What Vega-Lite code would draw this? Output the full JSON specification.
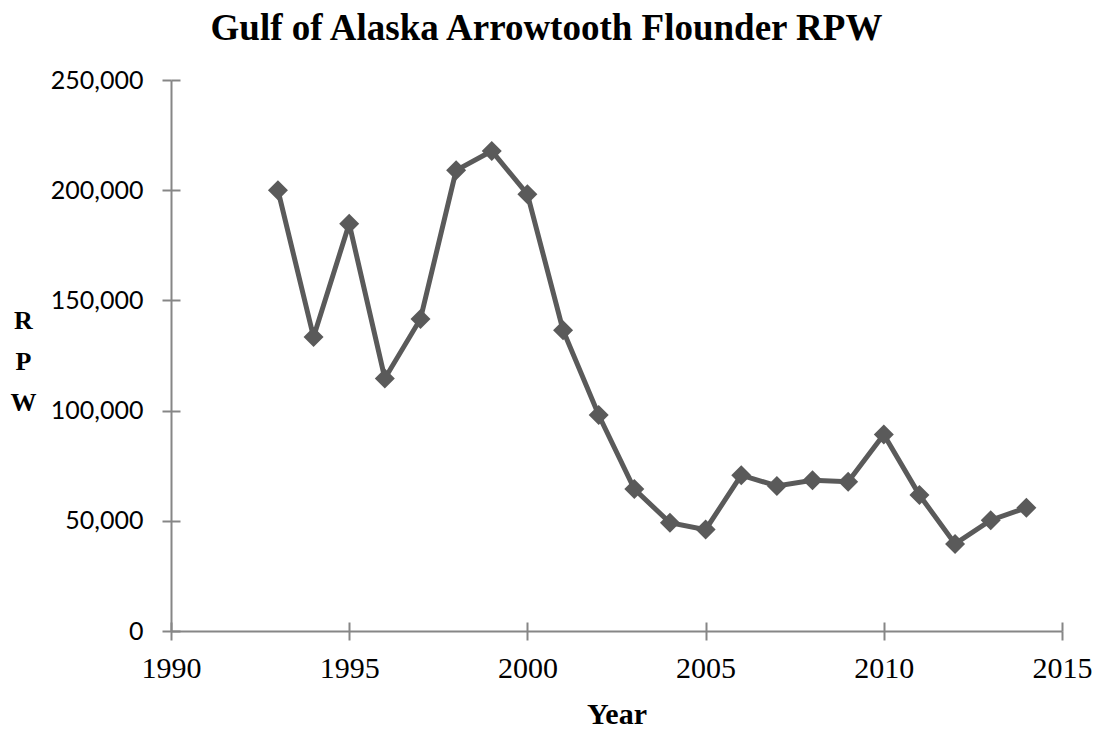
{
  "$schema": "https://vega.github.io/schema/vega-lite/v6.json",
  "width": 891,
  "height": 551,
  "autosize": "none",
  "padding": {"left": 171, "top": 80, "right": 39, "bottom": 98},
  "background": "white",
  "title": {
    "text": "Gulf of Alaska Arrowtooth Flounder RPW",
    "font": "Liberation Serif",
    "fontSize": 37,
    "fontWeight": "bold",
    "color": "#000000",
    "anchor": "middle",
    "frame": "group",
    "dx": -70,
    "dy": 37,
    "baseline": "alphabetic",
    "offset": 28
  },
  "data": {
    "values": [
      {"Year": 1993, "RPW": 200000},
      {"Year": 1994, "RPW": 133400},
      {"Year": 1995, "RPW": 184800},
      {"Year": 1996, "RPW": 114600},
      {"Year": 1997, "RPW": 141600},
      {"Year": 1998, "RPW": 209000},
      {"Year": 1999, "RPW": 217800},
      {"Year": 2000, "RPW": 198200},
      {"Year": 2001, "RPW": 136500},
      {"Year": 2002, "RPW": 98000},
      {"Year": 2003, "RPW": 64400},
      {"Year": 2004, "RPW": 49100},
      {"Year": 2005, "RPW": 46000},
      {"Year": 2006, "RPW": 70700},
      {"Year": 2007, "RPW": 65800},
      {"Year": 2008, "RPW": 68400},
      {"Year": 2009, "RPW": 67700},
      {"Year": 2010, "RPW": 89200},
      {"Year": 2011, "RPW": 61700},
      {"Year": 2012, "RPW": 39500},
      {"Year": 2013, "RPW": 50300},
      {"Year": 2014, "RPW": 55900}
    ]
  },
  "mark": {
    "type": "line",
    "color": "#5a5a5a",
    "strokeWidth": 5,
    "point": {"filled": true, "shape": "diamond", "size": 400, "color": "#5a5a5a", "opacity": 1}
  },
  "encoding": {
    "x": {
      "field": "Year",
      "type": "quantitative",
      "scale": {"domain": [1990, 2015], "nice": false, "zero": false},
      "axis": {
        "values": [1990, 1995, 2000, 2005, 2010, 2015],
        "format": "d",
        "title": "Year",
        "titleFont": "Liberation Serif",
        "titleFontSize": 30,
        "titleFontWeight": "bold",
        "titleColor": "#000000",
        "titleBaseline": "alphabetic",
        "titleY": 92,
        "labelFont": "Liberation Serif",
        "labelFontSize": 30,
        "labelColor": "#000000",
        "labelPadding": 13,
        "labelFlush": false,
        "labelOverlap": false,
        "gridDash": [0, 542, 9, 3000]
      }
    },
    "y": {
      "field": "RPW",
      "type": "quantitative",
      "scale": {"domain": [0, 250000], "nice": false},
      "axis": {
        "values": [0, 50000, 100000, 150000, 200000, 250000],
        "format": ",d",
        "title": ["R", "P", "W"],
        "titleAngle": 0,
        "titleAlign": "center",
        "titleBaseline": "alphabetic",
        "titleFont": "Liberation Serif",
        "titleFontSize": 26,
        "titleFontWeight": "bold",
        "titleColor": "#000000",
        "titleLineHeight": 41,
        "titleX": -148,
        "titleY": 248,
        "labelFont": "Lato",
        "labelFontSize": 25,
        "labelColor": "#000000",
        "labelPadding": 19,
        "labelFlush": false,
        "labelOverlap": false,
        "gridDash": [9, 3000]
      }
    }
  },
  "config": {
    "view": {"stroke": null},
    "axis": {
      "domainColor": "#868686",
      "domainWidth": 2,
      "tickColor": "#868686",
      "tickWidth": 2,
      "tickSize": 9,
      "grid": true,
      "gridColor": "#868686",
      "gridWidth": 2
    }
  }
}
